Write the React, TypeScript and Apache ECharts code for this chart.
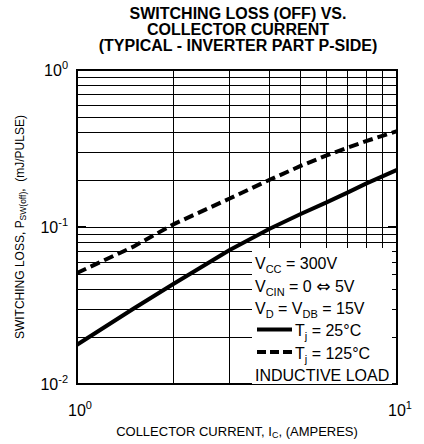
import React, { useEffect, useRef } from 'react';
import * as echarts from 'echarts';

// Collector current, A
const currentA = [1, 1.5, 2, 3, 4, 5, 6, 7, 8, 9, 10];
// Switching loss (mJ/pulse), Tj = 25 °C
const lossTj25 = [0.0178, 0.0302, 0.0434, 0.0714, 0.0975, 0.121, 0.143, 0.1655, 0.189, 0.21, 0.231];
// Switching loss (mJ/pulse), Tj = 125 °C
const lossTj125 = [0.051, 0.075, 0.104, 0.152, 0.2, 0.245, 0.285, 0.32, 0.352, 0.381, 0.408];

// grid lines
const xGridLines = [2, 3, 4, 5, 6, 7, 8, 9];
const yGridLines = [0.02, 0.03, 0.04, 0.05, 0.06, 0.07, 0.08, 0.09, 0.1, 0.2, 0.3, 0.4, 0.5, 0.6, 0.7, 0.8, 0.9];

// tick labels (10^exp)
const xTickValues = [1, 10];
const xTickExps = ['0', '1'];
const yTickValues = [0.01, 0.1, 1];
const yTickExps = ['-2', '-1', '0'];

const titleLines = ['SWITCHING LOSS (OFF) VS.', 'COLLECTOR CURRENT', '(TYPICAL - INVERTER PART P-SIDE)'];
const legendLines = [
  'V{sub|CC} = 300V',
  'V{sub|CIN} = 0 {arr|\u21D4} 5V',
  'V{sub|D} = V{sub|DB} = 15V',
  'T{sub|j} = 25\u00B0C',
  'T{sub|j} = 125\u00B0C',
  'INDUCTIVE LOAD',
];

const FONT = '"Liberation Sans", Arial, Helvetica, sans-serif';

function pow10Label(values: number[], exps: string[]) {
  return (v: number) => {
    const i = values.findIndex((t) => Math.abs(t - v) / t < 1e-6);
    return i < 0 ? '' : `{b|10}{s|${exps[i]}}`;
  };
}

const tickRich = {
  b: { fontSize: 16, lineHeight: 22, fontFamily: FONT, color: '#000' },
  s: { fontSize: 11, lineHeight: 11, verticalAlign: 'top', fontFamily: FONT, color: '#000' },
};

export default function App() {
  const ref = useRef<HTMLDivElement>(null);
  useEffect(() => {
    if (!ref.current) return;
    const chart = echarts.init(ref.current, undefined, { renderer: 'svg' });
    const legendX = 255;
    const legendY = [263.5, 286, 308.5, 330.5, 353, 375];
    const legendTextX = [legendX, legendX, legendX, 295, 295, legendX];
    const legendRich = {
      sub: { fontSize: 11, lineHeight: 12, verticalAlign: 'bottom', fontFamily: FONT, fill: '#000', color: '#000' },
      arr: { fontSize: 17, lineHeight: 22, fontFamily: '"DejaVu Sans", sans-serif', fill: '#000', color: '#000' },
    };
    const option: any = {
      animation: false,
      backgroundColor: '#fff',
      grid: {
        left: 77,
        top: 70,
        width: 320,
        height: 320,
        show: true,
        borderColor: '#000',
        borderWidth: 2,
        backgroundColor: 'transparent',
      },
      xAxis: {
        type: 'log',
        logBase: 10,
        min: 1,
        max: 10,
        name: 'COLLECTOR CURRENT, I{sub|C}, (AMPERES)',
        nameLocation: 'middle',
        nameGap: 38,
        nameTextStyle: {
          fontSize: 13,
          lineHeight: 16,
          fontFamily: FONT,
          color: '#000',
          rich: { sub: { fontSize: 9, lineHeight: 10, verticalAlign: 'bottom', fontFamily: FONT, color: '#000' } },
        },
        axisLine: { show: false },
        axisTick: { show: false },
        splitLine: { show: false },
        axisLabel: {
          margin: 15,
          padding: [0, 0, 0, 6],
          showMinLabel: true,
          showMaxLabel: true,
          formatter: pow10Label(xTickValues, xTickExps),
          rich: tickRich,
        },
      },
      yAxis: [
        {
          type: 'log',
          logBase: 10,
          min: 0.01,
          max: 1,
          name: 'SWITCHING LOSS, P{sub|SW(off)},  (mJ/PULSE)',
          nameLocation: 'middle',
          nameGap: 50,
          nameTextStyle: {
            fontSize: 12,
            lineHeight: 15,
            fontFamily: FONT,
            color: '#000',
            rich: { sub: { fontSize: 8.5, lineHeight: 9, verticalAlign: 'bottom', fontFamily: FONT, color: '#000' } },
          },
          axisLine: { show: false },
          axisTick: { show: true, inside: true, length: 9, lineStyle: { color: '#000', width: 2 } },
          splitLine: { show: false },
          axisLabel: {
            margin: 9,
            showMinLabel: true,
            showMaxLabel: true,
            formatter: pow10Label(yTickValues, yTickExps),
            rich: tickRich,
          },
        },
        {
          type: 'log',
          logBase: 10,
          min: 0.01,
          max: 1,
          position: 'right',
          axisLine: { show: false },
          axisTick: { show: true, inside: true, length: 9, lineStyle: { color: '#000', width: 2 } },
          splitLine: { show: false },
          axisLabel: { show: false },
        },
      ],
      series: [
        {
          name: 'Tj = 25°C',
          type: 'line',
          data: currentA.map((x, i) => [x, lossTj25[i]]),
          smooth: false,
          symbol: 'none',
          lineStyle: { color: '#000', width: 4, join: 'round' },
          z: 3,
          markLine: {
            silent: true,
            symbol: ['none', 'none'],
            label: { show: false },
            lineStyle: { color: '#000', width: 1, type: 'solid' },
            emphasis: { disabled: true },
            data: [
              ...xGridLines.map((v) => ({ xAxis: v })),
              ...yGridLines.map((v) => ({ yAxis: v })),
            ],
          },
        },
        {
          name: 'Tj = 125°C',
          type: 'line',
          data: currentA.map((x, i) => [x, lossTj125[i]]),
          smooth: false,
          symbol: 'none',
          lineStyle: { color: '#000', width: 4, type: [10, 5] },
          z: 3,
        },
      ],
      graphic: [
        {
          type: 'text',
          x: 238,
          y: 5,
          z: 100,
          style: {
            text: titleLines.join('\n'),
            fontSize: 16,
            fontWeight: 'bold',
            fontFamily: FONT,
            lineHeight: 16,
            fill: '#000',
            align: 'center',
            verticalAlign: 'top',
          },
        },
        {
          type: 'rect',
          z: 100,
          shape: { x: 252, y: 248, width: 140, height: 136 },
          style: { fill: '#fff', stroke: null },
        },
        {
          type: 'line',
          z: 101,
          shape: { x1: 257, y1: 329.5, x2: 292, y2: 329.5 },
          style: { stroke: '#000', lineWidth: 4 },
        },
        {
          type: 'line',
          z: 101,
          shape: { x1: 257, y1: 352, x2: 292, y2: 352 },
          style: { stroke: '#000', lineWidth: 4, lineDash: [9, 4] },
        },
        ...legendLines.map((t, i) => ({
          type: 'text',
          x: legendTextX[i],
          y: legendY[i],
          z: 101,
          style: {
            text: t,
            fontSize: 16,
            lineHeight: 22,
            fontFamily: FONT,
            fill: '#000',
            align: 'left',
            verticalAlign: 'middle',
            rich: legendRich,
          },
        })),
      ],
    };
    chart.setOption(option);
    return () => chart.dispose();
  }, []);
  return (
    <div
      ref={ref}
      style={{ position: 'fixed', left: 0, top: 0, width: 424, height: 444, background: '#fff' }}
    />
  );
}
